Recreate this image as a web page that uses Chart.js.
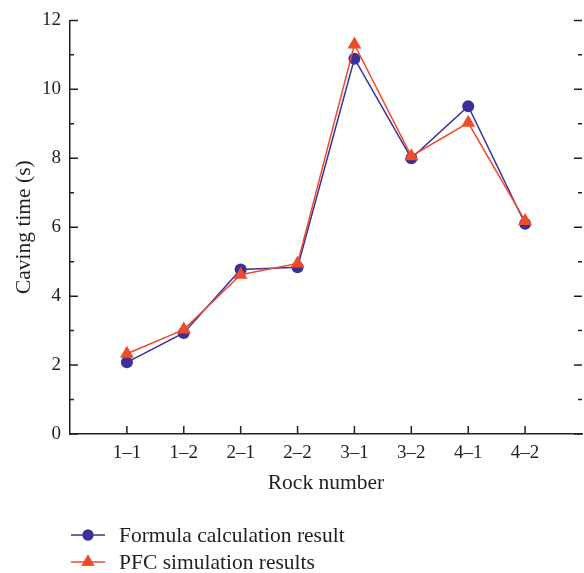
<!DOCTYPE html>
<html>
<head>
<meta charset="utf-8">
<script src="https://cdn.jsdelivr.net/npm/chart.js@4.4.1/dist/chart.umd.min.js"></script>
<style>
html,body{margin:0;padding:0;overflow:hidden;background:#fff;}
canvas{display:block;}
</style>
</head>
<body>
<canvas id="c" width="590" height="573"></canvas>
<script>
const categories = ['1\u20131','1\u20132','2\u20131','2\u20132','3\u20131','3\u20132','4\u20131','4\u20132'];
const formulaValues = [2.08, 2.93, 4.77, 4.84, 10.89, 8.0, 9.51, 6.1];
const pfcValues = [2.33, 3.03, 4.62, 4.95, 11.3, 8.06, 9.03, 6.18];
const yTickLabels = ['0','2','4','6','8','10','12'];
const seriesNames = ['Formula calculation result', 'PFC simulation results'];

const BLUE = '#3a3196';
const RED = '#f04a2a';
const AXIS = '#231f20';
const FONT = '"Liberation Serif", "DejaVu Serif", serif';
const TITLE_SIZE = 21.5;
const TICK_SIZE = 19;

function toPoints(vals){ return vals.map((v,i)=>({x:i+1, y:v})); }

const ticksPlugin = {
  id: 'inwardTicks',
  afterDraw(chart){
    const ctx = chart.ctx;
    const xs = chart.scales.x, ys = chart.scales.y;
    const area = chart.chartArea;
    ctx.save();
    ctx.strokeStyle = AXIS;
    ctx.lineWidth = 1.5;
    ctx.beginPath();
    categories.forEach((c,i)=>{
      const px = xs.getPixelForValue(i+1);
      ctx.moveTo(px, area.bottom);
      ctx.lineTo(px, area.bottom - 8);
    });
    for (let v = 0; v <= 12; v++) {
      const py = ys.getPixelForValue(v);
      const len = (v % 2 === 0) ? 8 : 4;
      ctx.moveTo(area.left, py); ctx.lineTo(area.left + len, py);
      ctx.moveTo(area.right, py); ctx.lineTo(area.right - len, py);
    }
    ctx.stroke();

    // legend
    const items = [
      {name: seriesNames[0], color: BLUE, style: 'circle', r: 5.5, y: 535},
      {name: seriesNames[1], color: RED, style: 'triangle', r: 7.5, y: 562}
    ];
    ctx.font = TITLE_SIZE + 'px ' + FONT;
    ctx.textBaseline = 'middle';
    ctx.textAlign = 'left';
    items.forEach(it=>{
      ctx.strokeStyle = it.color;
      ctx.lineWidth = 1.5;
      ctx.beginPath();
      ctx.moveTo(71, it.y); ctx.lineTo(105, it.y);
      ctx.stroke();
      ctx.fillStyle = it.color;
      Chart.helpers.drawPoint(ctx, {pointStyle: it.style, radius: it.r, borderWidth: 0}, 88, it.y);
      ctx.fill();
      ctx.fillStyle = AXIS;
      ctx.fillText(it.name, 119, it.y + 1);
    });
    ctx.restore();
  }
};

new Chart(document.getElementById('c'), {
  type: 'line',
  data: {
    datasets: [
      {
        label: seriesNames[0],
        data: toPoints(formulaValues),
        borderColor: BLUE,
        backgroundColor: BLUE,
        borderWidth: 1.5,
        pointStyle: 'circle',
        pointRadius: 6,
        pointBorderWidth: 0,
        tension: 0,
        order: 1
      },
      {
        label: seriesNames[1],
        data: toPoints(pfcValues),
        borderColor: RED,
        backgroundColor: RED,
        borderWidth: 1.5,
        pointStyle: 'triangle',
        pointRadius: 8,
        pointBorderWidth: 0,
        tension: 0,
        order: 0
      }
    ]
  },
  options: {
    responsive: false,
    animation: false,
    layout: {padding: {left: 0, right: 4, top: 15, bottom: 0}},
    plugins: {legend: {display: false}, tooltip: {enabled: false}},
    scales: {
      x: {
        type: 'linear',
        min: 0, max: 9,
        grid: {display: false, drawTicks: false},
        border: {display: true, color: AXIS, width: 1.5},
        ticks: {
          stepSize: 1,
          autoSkip: false,
          maxRotation: 0,
          padding: 8,
          color: AXIS,
          font: {family: FONT, size: TICK_SIZE},
          callback: (v) => (v >= 1 && v <= categories.length) ? categories[v-1] : ''
        },
        title: {
          display: true, text: 'Rock number', color: AXIS,
          font: {family: FONT, size: TITLE_SIZE},
          padding: {top: 0, bottom: 77}
        },
        afterFit: (s) => { s.height = 139; }
      },
      y: {
        min: 0, max: 12,
        grid: {display: false, drawTicks: false},
        border: {display: true, color: AXIS, width: 1.5},
        ticks: {
          stepSize: 2,
          padding: 9,
          color: AXIS,
          font: {family: FONT, size: TICK_SIZE},
          callback: (v) => yTickLabels[v/2]
        },
        title: {
          display: true, text: 'Caving time (s)', color: AXIS,
          font: {family: FONT, size: TITLE_SIZE},
          padding: {top: 11, bottom: 0}
        },
        afterFit: (s) => { s.width = 70; }
      }
    }
  },
  plugins: [ticksPlugin]
});
</script>
</body>
</html>
